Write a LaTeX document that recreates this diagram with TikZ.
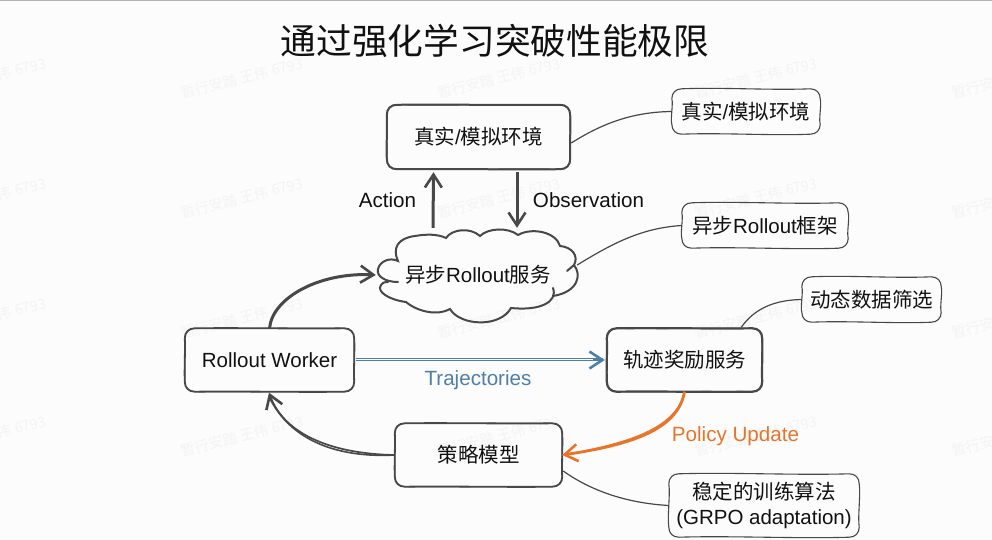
\documentclass[tikz,border=0pt]{standalone}
\usepackage{fontspec}
\setmainfont{Liberation Sans}
\newfontfamily\cjk{Noto Sans CJK SC}
\usetikzlibrary{arrows.meta,calc}
\definecolor{ink}{HTML}{484848}
\definecolor{txt}{HTML}{111111}
\definecolor{blue1}{HTML}{4F7FA8}
\definecolor{orange1}{HTML}{E8742A}
\definecolor{markc}{HTML}{F4F4F4}
\newcommand{\C}[1]{{\cjk #1}}
\newcommand{\handnode}[3][]{%
  \draw[line cap=round,#1]
  ($(#2.north west)+(10,0)$)
  .. controls ($(#2.north west)!.33!(#2.north east)+(0,{-(#3)})$) and ($(#2.north west)!.67!(#2.north east)+(0,{#3})$) .. ($(#2.north east)+(-10,0)$)
  .. controls ($(#2.north east)+(-4,0)$) and ($(#2.north east)+(0,4)$) .. ($(#2.north east)+(0,10)$)
  .. controls ($(#2.north east)!.33!(#2.south east)+({#3},0)$) and ($(#2.north east)!.67!(#2.south east)+({-(#3)},0)$) .. ($(#2.south east)+(0,-10)$)
  .. controls ($(#2.south east)+(0,-4)$) and ($(#2.south east)+(-4,0)$) .. ($(#2.south east)+(-10,0)$)
  .. controls ($(#2.south east)!.33!(#2.south west)+(0,{#3})$) and ($(#2.south east)!.67!(#2.south west)+(0,{-(#3)})$) .. ($(#2.south west)+(10,0)$)
  .. controls ($(#2.south west)+(4,0)$) and ($(#2.south west)+(0,-4)$) .. ($(#2.south west)+(0,-10)$)
  .. controls ($(#2.south west)!.33!(#2.north west)+({-(#3)},0)$) and ($(#2.south west)!.67!(#2.north west)+({#3},0)$) .. ($(#2.north west)+(0,10)$)
  .. controls ($(#2.north west)+(0,4)$) and ($(#2.north west)+(4,0)$) .. cycle;}
\tikzset{
  x=1pt,y=-1pt,
  heavy/.style={draw=ink,line width=1.5pt},
  thinline/.style={draw=ink,line width=1.1pt},
  lab/.style={font=\fontsize{20.5}{25}\selectfont,text=txt,inner sep=0pt,align=center},
  edgelab/.style={font=\fontsize{20.6}{24}\selectfont,inner sep=0pt,anchor=base},
  barb/.style={-{Straight Barb[length=13pt,width=17pt,line width=2.6pt]}},
  hand/.style={draw=ink,line width=3pt,barb},
  lead/.style={draw=ink,line width=1.2pt},
  wm/.style={font=\fontsize{14.5}{16}\selectfont\cjk,text=markc,rotate=14,inner sep=0pt},
  lobe/.style={draw=ink,line width=2pt,line cap=round},
}
\begin{document}
\begin{tikzpicture}
\useasboundingbox (0,0) rectangle (992,540);
\fill[white!99!black] (0,0) rectangle (992,540);
\draw[black!30,line width=1pt] (0,0.4) -- (992,0.4);
\foreach \y in {78,198,318,436}
  \foreach \x in {242,499,756}
    \node[wm] at (\x,\y) {暂行安踏 王伟 6793};
\foreach \y in {78,198,318,436}{
  \begin{scope}
  \clip (0,0) rectangle (992,540);
  \node[wm] at (-15,\y) {暂行安踏 王伟 6793};
  \node[wm] at (1013,\y) {暂行安踏 王伟 6793};
  \end{scope}}
\node[font=\fontsize{35.7}{40}\selectfont\cjk,text=txt,inner sep=0pt] (title) at (495,41) {通过强化学习突破性能极限};
% main boxes
\node[lab,minimum width=183pt,minimum height=64pt] (env) at (478.5,137) {\C{真实}/\C{模拟环境}};
\handnode[heavy,line width=2pt]{env}{0.6}
\handnode[heavy,line width=1.2pt]{env}{-0.6}
\node[lab,minimum width=169pt,minimum height=63pt] (worker) at (269.5,360) {Rollout Worker};
\handnode[heavy,line width=1.8pt]{worker}{0.6}
\handnode[heavy,line width=1pt]{worker}{-0.6}
\node[lab,minimum width=155pt,minimum height=63pt] (traj) at (684.5,360) {\C{轨迹奖励服务}};
\handnode[heavy,line width=2.2pt]{traj}{0.6}
\handnode[heavy,line width=1.2pt]{traj}{-0.6}
\node[lab,minimum width=167pt,minimum height=63pt] (policy) at (478.5,455) {\C{策略模型}};
\handnode[heavy,line width=1.8pt]{policy}{0.6}
\handnode[heavy,line width=1pt]{policy}{-0.6}
% cloud
\node[lab,minimum width=204pt,minimum height=90pt] (roll) at (478,275) {\C{异步}Rollout\C{服务}};
\draw[lobe]
  (398,282) .. controls (385,282) and (376,276) .. (378,269) .. controls (380,261) and (390,257) .. (398,261)
  .. controls (392,248) and (398,238) .. (415,236) .. controls (426,234) and (438,234) .. (446,238)
  .. controls (452,229) and (470,227) .. (480,236)
  .. controls (488,228) and (508,227) .. (518,235)
  .. controls (532,227) and (556,232) .. (560,246)
  .. controls (572,247) and (579,256) .. (574,265)
  .. controls (582,275) and (578,292) .. (553,296);
\draw[lobe] (574,265) -- (567,271);
\draw[lobe]
  (553,288) .. controls (558,302) and (540,311) .. (511,308)
  .. controls (500,328) and (460,326) .. (450,309)
  .. controls (438,316) and (418,312) .. (406,302)
  .. controls (390,300) and (376,292) .. (381,285)
  .. controls (382,283) and (384,282) .. (388,282);
% main arrows
\draw[hand] ($(roll.north)+(-45,-2)$) -- ($(env.south)+(-45,3)$);
\draw[hand] ($(env.south)+(38.5,3)$) -- ($(roll.north)+(39,-2)$);
\node[edgelab,text=txt] (act) at (387.5,207) {Action};
\node[edgelab,text=txt] (obs) at (588.5,207) {Observation};
\draw[hand] (worker.north) .. controls ($(worker.north)+(3,-31)$) and (320,272) .. (roll.west);
\draw[hand,line width=1.7pt] (policy.west) .. controls (335,454) and (285,436) .. ($(worker.south)+(-0.5,1)$);
\draw[ink,line width=1.6pt] (policy.west) .. controls (338,458) and (291,441) .. ($(worker.south)+(0,6)$);
\draw[blue1,line width=1.3pt] ($(worker.east)+(2,-1.6)$) -- ($(traj.west)+(-4,-1.6)$);
\draw[blue1,line width=1.3pt] ($(worker.east)+(2,0.8)$) -- ($(traj.west)+(-4,0.8)$);
\draw[blue1,line width=2.6pt,barb] ($(traj.west)+(-14,0)$) -- ($(traj.west)+(-2,0)$);
\node[edgelab,text=blue1] (tl) at (478,385) {Trajectories};
\draw[orange1,line width=2.8pt,barb] (traj.south) .. controls (678,430) and (630,445) .. (policy.east);
\draw[orange1,line width=1pt] (traj.south) .. controls (676,428) and (630,443) .. (policy.east);
\node[edgelab,text=orange1] (pu) at (735.5,441) {Policy Update};
% notes
\node[lab,minimum width=148pt,minimum height=45pt] (n1) at (746,111.5) {\C{真实}/\C{模拟环境}};
\handnode[thinline]{n1}{1.6}
\node[lab,minimum width=166pt,minimum height=45pt] (n2) at (765,225.5) {\C{异步}Rollout\C{框架}};
\handnode[thinline]{n2}{1.6}
\node[lab,minimum width=139pt,minimum height=45pt] (n3) at (871.5,299.5) {\C{动态数据筛选}};
\handnode[thinline]{n3}{1.6}
\node[lab,minimum width=190pt,minimum height=63pt] (n4) at (764,505.5) {\C{稳定的训练算法}\\(GRPO adaptation)};
\handnode[thinline]{n4}{1.6}
% leaders
\draw[lead] ($(env.east)+(1,6)$) .. controls (600,125) and (630,112) .. (n1.west);
\draw[lead] ($(roll.east)+(-3,-10)$) .. controls (610,245) and (640,228) .. (n2.west);
\draw[lead] ($(traj.north east)+(-21,-1)$) .. controls (755,308) and (775,300) .. (n3.west);
\draw[lead] ($(policy.east)+(1,16)$) .. controls (590,490) and (625,503) .. (n4.west);
\end{tikzpicture}
\end{document}
